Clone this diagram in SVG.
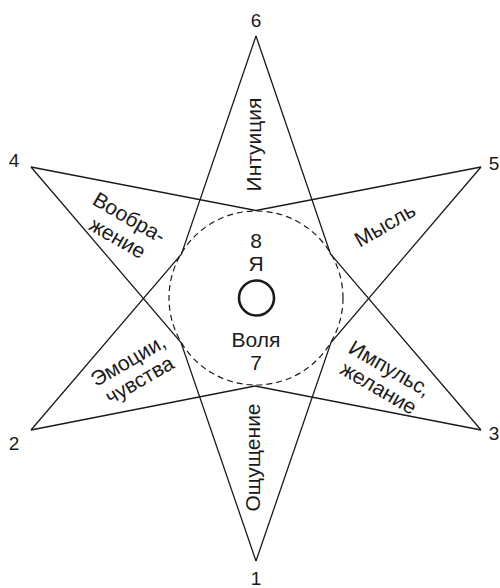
<svg xmlns="http://www.w3.org/2000/svg" width="500" height="588" viewBox="0 0 500 588">
<style>
  .ln { fill: none; stroke: #1a1a1a; stroke-width: 1.3; stroke-linejoin: miter; }
  .dash { fill: none; stroke: #1a1a1a; stroke-width: 1.2; stroke-dasharray: 6 4; }
  .ring { fill: none; stroke: #1a1a1a; stroke-width: 2.6; }
  text { font-family: "Liberation Sans", Arial, sans-serif; fill: #1a1a1a; text-anchor: middle; }
  .num { font-size: 19px; }
  .lbl { font-size: 21px; }
  .ctr { font-size: 21px; }
</style>
<rect width="500" height="588" fill="#ffffff"/>
<g id="connectors">
  <polyline class="ln" points="256,36 181.5,254 31,430"/>
  <polyline class="ln" points="256,36 330.5,254 481,430"/>
  <polyline class="ln" points="31,167 256,210.5 481,167"/>
  <polyline class="ln" points="31,167 181,342.5 256,561"/>
  <polyline class="ln" points="481,167 331,342.5 256,561"/>
  <polyline class="ln" points="31,430 255,386 481,430"/>
  <circle class="dash" cx="256" cy="298" r="87"/>
</g>
<g id="node-center">
  <circle class="ring" cx="256.5" cy="298" r="17.5"/>
  <text class="ctr" x="256" y="248">8</text>
  <text class="ctr" x="256" y="271">Я</text>
  <text class="ctr" x="256" y="347">Воля</text>
  <text class="ctr" x="256" y="370">7</text>
</g>
<g id="node-6">
  <text class="num" x="256" y="27">6</text>
  <text class="lbl" transform="translate(261,144.5) rotate(-90)" x="0" y="0">Интуиция</text>
</g>
<g id="node-1">
  <text class="num" x="256" y="585">1</text>
  <text class="lbl" transform="translate(260,457.5) rotate(-90)" x="0" y="0">Ощущение</text>
</g>
<g id="node-4">
  <text class="num" x="14" y="167">4</text>
  <g transform="translate(123,228.5) rotate(30)">
    <text class="lbl" x="0" y="-5.5">Вообра-</text>
    <text class="lbl" x="0" y="18">жение</text>
  </g>
</g>
<g id="node-5">
  <text class="num" x="494" y="170">5</text>
  <text class="lbl" transform="translate(385,225) rotate(-30)" x="0" y="7">Мысль</text>
</g>
<g id="node-2">
  <text class="num" x="14" y="450">2</text>
  <g transform="translate(134,370.5) rotate(-30)">
    <text class="lbl" x="0" y="-4.5">Эмоции,</text>
    <text class="lbl" x="0" y="18">чувства</text>
  </g>
</g>
<g id="node-3">
  <text class="num" x="494" y="440">3</text>
  <g transform="translate(384,378.5) rotate(30)">
    <text class="lbl" x="0" y="-4.5">Импульс,</text>
    <text class="lbl" x="0" y="18">желание</text>
  </g>
</g>
</svg>
